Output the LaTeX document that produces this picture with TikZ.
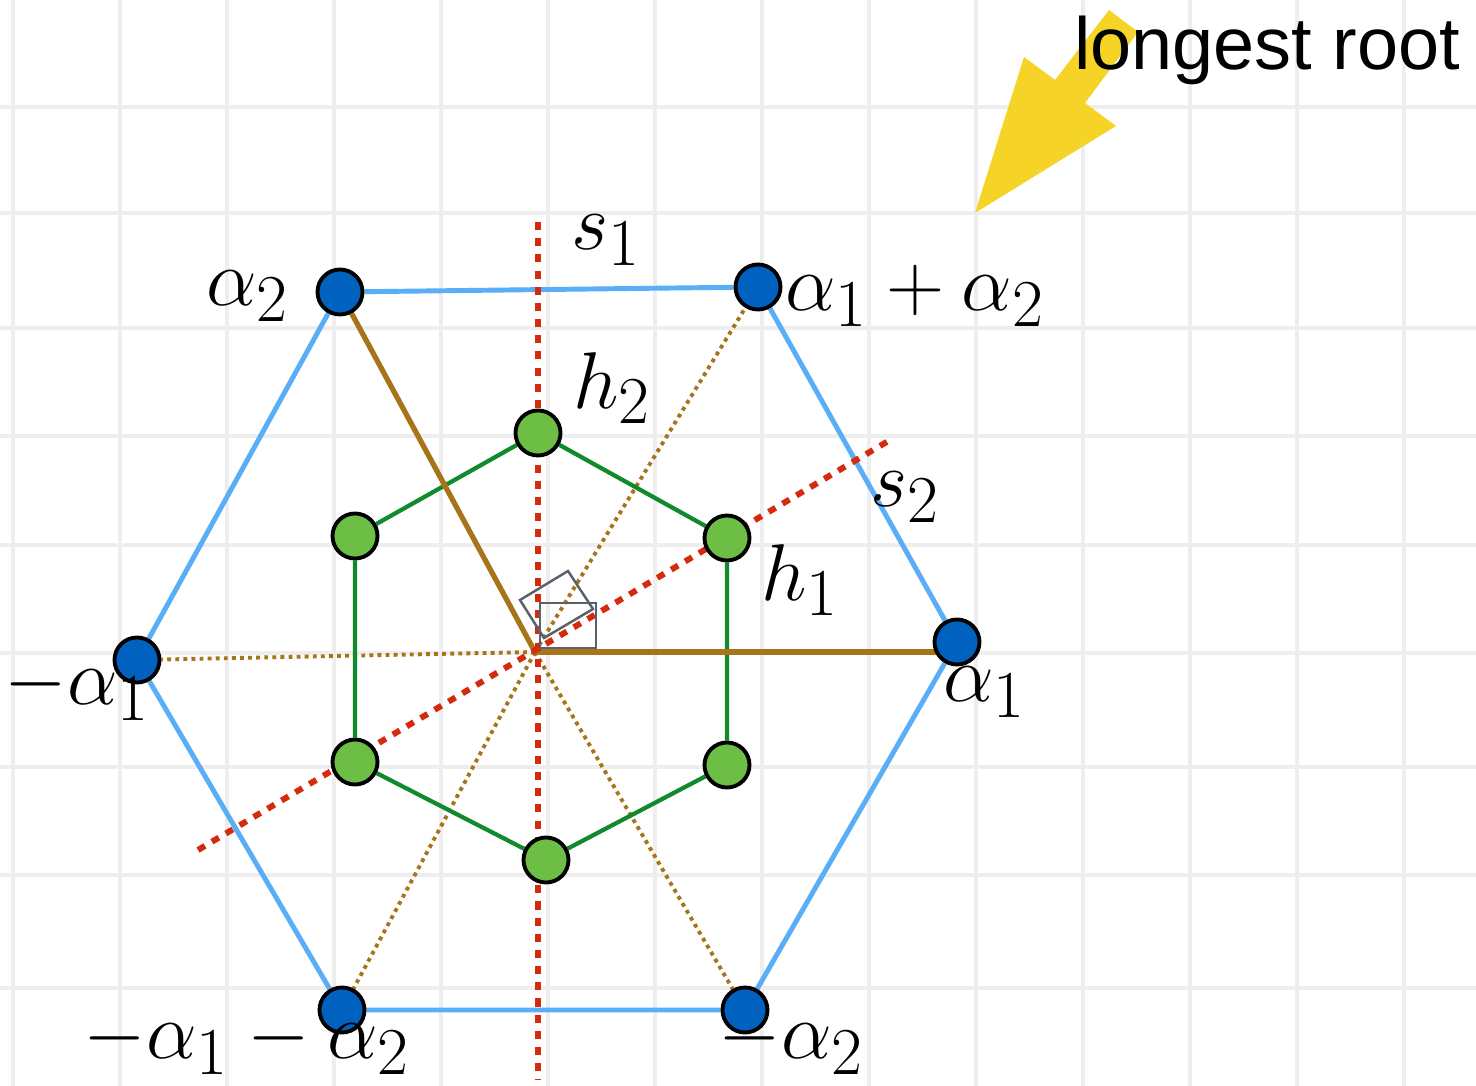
\documentclass[tikz,border=0pt]{standalone}
\usepackage{amsmath,amssymb}
\usepackage{graphicx}
\usepackage{fontspec}
\setsansfont{Liberation Sans}
\usepackage{xcolor}
\usetikzlibrary{positioning, backgrounds}

\definecolor{rootblue}{HTML}{0062BE}
\definecolor{edgeblue}{HTML}{5AADF7}
\definecolor{leafgreen}{HTML}{6DBE45}
\definecolor{darkgreen}{HTML}{108A2C}
\definecolor{rootbrown}{HTML}{A8741A}
\definecolor{reflred}{HTML}{D42A0E}
\definecolor{sqgray}{HTML}{59616A}
\definecolor{gridgray}{HTML}{EEEEEE}
\definecolor{arrowyellow}{HTML}{F5D327}

% math labels, a little under \Huge
\newcommand{\rootlbl}[1]{\scalebox{0.92}{$#1$}}

\begin{document}
\begin{tikzpicture}[x=0.01cm, y=-0.01cm,
    root/.style={circle, draw=black, line width=1.1pt, fill=rootblue, minimum size=0.45cm, inner sep=0pt},
    weight/.style={circle, draw=black, line width=1.1pt, fill=leafgreen, minimum size=0.45cm, inner sep=0pt},
    lbl/.style={inner sep=0pt, font=\fontsize{24.88}{30}\selectfont},
    gridline/.style={draw=gridgray, line width=1.1pt},
    hexedge/.style={draw=edgeblue, line width=1.4pt},
    weightedge/.style={draw=darkgreen, line width=1.2pt},
    simple/.style={draw=rootbrown, line width=1.5pt},
    rootray/.style={draw=rootbrown, line width=1.1pt, dash pattern=on 1.1pt off 1.2pt},
    mirror/.style={draw=reflred, line width=1.7pt, dash pattern=on 2.3pt off 2.3pt},
    angle/.style={draw=sqgray, line width=0.7pt}]

    \useasboundingbox (0,0) rectangle (1476,1086);

    \coordinate (o) at (535,652);
    \coordinate (s1top) at (538,222);
    \coordinate (s1bot) at (538,1080);
    \coordinate (s2lo) at (198,850);
    \coordinate (s2hi) at (890,440);

    % roots
    \node[root] (a2) at (340,292) {};
    \node[root] (a12) at (758,287) {};
    \node[root] (a1) at (957,642) {};
    \node[root] (ma2) at (745,1010) {};
    \node[root] (ma12) at (342,1010) {};
    \node[root] (ma1) at (137,660) {};

    % weights
    \node[weight] (h2) at (538,433) {};
    \node[weight] (h1) at (727,538) {};
    \node[weight] (wr) at (727,765) {};
    \node[weight] (wb) at (546,860) {};
    \node[weight] (wl) at (355,762) {};
    \node[weight] (wt) at (355,536) {};

    \begin{pgfonlayer}{background}
    \fill[white] (0,0) rectangle (1476,1086);
    % background grid
    \foreach \gx in {0,...,13}
        \draw[gridline] ({13+107*\gx},0) -- ({13+107*\gx},1086);
    \foreach \gy in {107,213,328,436,545,653,767,875,988}
        \draw[gridline] (0,\gy) -- (1476,\gy);

    \draw[rootray] (o) -- (ma1);
    \draw[rootray] (o) -- (a12);
    \draw[rootray] (o) -- (ma12);
    \draw[rootray] (o) -- (ma2);

    \draw[weightedge] (h2) -- (h1) -- (wr) -- (wb) -- (wl) -- (wt) -- (h2);
    \draw[hexedge] (a2) -- (a12) -- (a1) -- (ma2) -- (ma12) -- (ma1) -- (a2);

    \draw[simple] (o) -- (a2);
    \draw[simple] (o) -- (a1 |- o);

    \draw[mirror] (s1top) -- (s1bot);
    \draw[mirror] (s2lo) -- (s2hi);

    \draw[angle] (540,603) rectangle (596,648);
    \draw[angle] (520,600) -- (568,571) -- (593,609) -- (544,638) -- cycle;
    \end{pgfonlayer}

    % labels
    \node[lbl] (la2) at (248,296) {\rootlbl{\alpha_2}};
    \node[lbl] (la12) at (915,296) {\rootlbl{\alpha_1+\alpha_2}};
    \node[lbl] (la1) at (985,692) {\rootlbl{\alpha_1}};
    \node[lbl] (lma1) at (77,689) {\rootlbl{-\alpha_1}};
    \node[lbl] (lma12) at (247,1043) {\rootlbl{-\alpha_1-\alpha_2}};
    \node[lbl] (lma2) at (791,1043) {\rootlbl{-\alpha_2}};
    \node[lbl] (ls1) at (606,240) {\rootlbl{s_1}};
    \node[lbl] (ls2) at (905,497) {\rootlbl{s_2}};
    \node[lbl] (lh1) at (800,580) {\rootlbl{h_1}};
    \node[lbl] (lh2) at (612,388) {\rootlbl{h_2}};

    % pointer to the longest root
    \fill[arrowyellow] (1109,10) -- (1138,32) -- (1085,103) -- (1116,126) -- (975,213)
        -- (1024,57) -- (1055,80) -- cycle;
    \node[inner sep=0pt, font=\sffamily\fontsize{21}{25}\selectfont] (longest) at (1267,50) {longest root};
\end{tikzpicture}
\end{document}
